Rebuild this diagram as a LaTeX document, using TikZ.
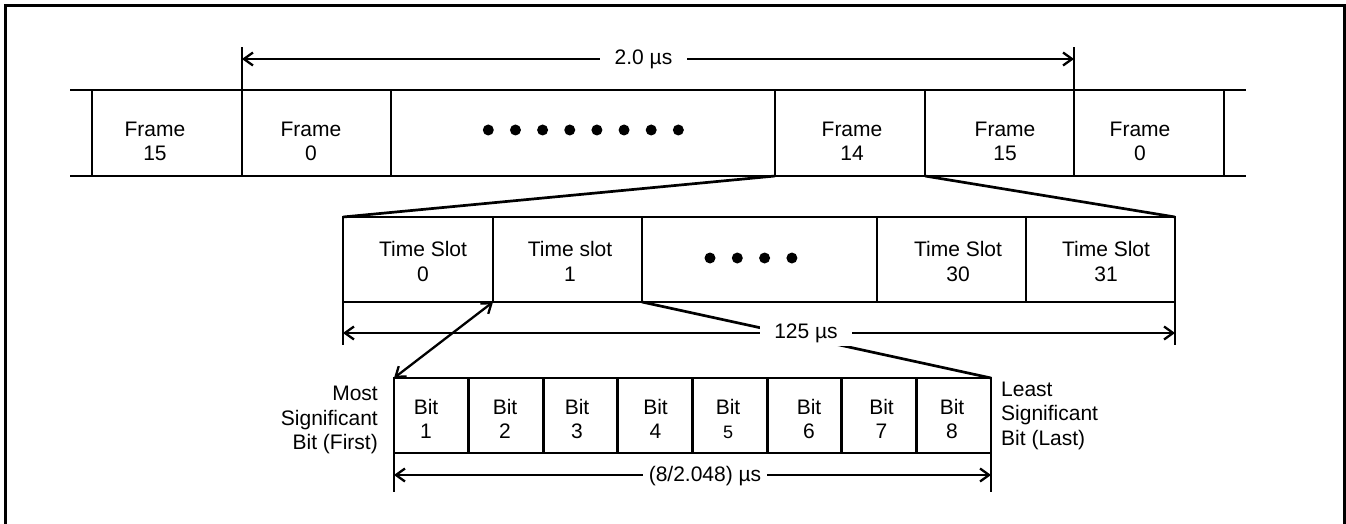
\documentclass[tikz,border=0pt]{standalone}
\usepackage{fontspec}
\setmainfont{Liberation Sans}
\usetikzlibrary{arrows.meta}
\begin{document}
\begin{tikzpicture}[x=1pt,y=-1pt,
  cell/.style={draw, line width=2.9pt, inner sep=0pt, outer sep=0pt, anchor=north west},
  celltext/.style={font=\fontsize{21}{24}\selectfont, align=center, inner sep=0pt},
  slottext/.style={font=\fontsize{21}{25}\selectfont, align=center, inner sep=0pt},
  sidetext/.style={font=\fontsize{21}{24.5}\selectfont, inner sep=0pt},
  dimline/.style={line width=2.3pt, {Straight Barb[length=9pt,width=13pt]}-{Straight Barb[length=9pt,width=13pt]}},
  extline/.style={line width=2.3pt},
  conn/.style={line width=2.7pt},
  dimlabel/.style={font=\fontsize{21}{24}\selectfont, fill=white, anchor=base, inner ysep=4pt},
  dotmark/.style={circle, fill=black, inner sep=0pt, minimum size=11pt}
]
\useasboundingbox (0,0) rectangle (1346,524);
% outer frame (open at the bottom)
\draw[line width=3pt] (5,530) -- (5,6) -- (1344,6) -- (1344,530);

% ---------- frame row ----------
\node[cell, minimum width=150pt, minimum height=86pt] (f1) at (92,90) {};
\node[cell, minimum width=149pt, minimum height=86pt] (f2) at (242,90) {};
\node[cell, minimum width=384pt, minimum height=86pt] (f3) at (391,90) {};
\node[cell, minimum width=150pt, minimum height=86pt] (f4) at (775,90) {};
\node[cell, minimum width=149pt, minimum height=86pt] (f5) at (925,90) {};
\node[cell, minimum width=150pt, minimum height=86pt] (f6) at (1074,90) {};
\draw[line width=2.9pt] (f1.north west) -- ++(-22,0);
\draw[line width=2.9pt] (f1.south west) -- ++(-22,0);
\draw[line width=2.9pt] (f6.north east) -- ++(22,0);
\draw[line width=2.9pt] (f6.south east) -- ++(22,0);
\node[celltext] (f1t) at (155,141.2) {Frame\\15};
\node[celltext] (f2t) at (311,141.2) {Frame\\0};
\node[celltext] (f4t) at (852,141.2) {Frame\\14};
\node[celltext] (f5t) at (1005,141.2) {Frame\\15};
\node[celltext] (f6t) at (1140,141.2) {Frame\\0};
\foreach \k in {0,...,7}
  \node[dotmark] (fd\k) at (488.3+27.15*\k,130) {};

% 2.0 us dimension
\draw[extline] (f2.north west) -- ++(0,-43);
\draw[extline] (f6.north west) -- ++(0,-43);
\path (f2.north west) ++(0,-31) coordinate (da1);
\path (f6.north west) ++(0,-31) coordinate (da2);
\draw[dimline] (da1) -- (da2);
\node[dimlabel, inner xsep=15pt] (dal) at (643.5,65) {2.0 µs};

% ---------- time slot row ----------
\node[cell, minimum width=150pt, minimum height=85pt] (t1) at (343,217) {};
\node[cell, minimum width=149pt, minimum height=85pt] (t2) at (493,217) {};
\node[cell, minimum width=235pt, minimum height=85pt] (t3) at (642,217) {};
\node[cell, minimum width=149pt, minimum height=85pt] (t4) at (877,217) {};
\node[cell, minimum width=149pt, minimum height=85pt] (t5) at (1026,217) {};
\node[slottext] (t1t) at (423,261.7) {Time Slot\\0};
\node[slottext] (t2t) at (570,261.7) {Time slot\\1};
\node[slottext] (t4t) at (958,261.7) {Time Slot\\30};
\node[slottext] (t5t) at (1106,261.7) {Time Slot\\31};
\foreach \k in {0,...,3}
  \node[dotmark] (td\k) at (710+27.3*\k,258) {};

% zoom lines frame 14 -> time slots
\draw[conn] (f4.south west) -- (t1.north west);
\draw[conn] (f4.south east) -- (t5.north east);

% ---------- bit row ----------
\foreach \i in {1,...,8}
  \node[cell, minimum width=74.625pt, minimum height=75pt] (b\i) at (394+74.625*\i-74.625,378) {};
\node[celltext] (b1t) at (426,418.5) {Bit\\1};
\node[celltext] (b2t) at (505,418.5) {Bit\\2};
\node[celltext] (b3t) at (577,418.5) {Bit\\3};
\node[celltext] (b4t) at (655.5,418.5) {Bit\\4};
\node[celltext] (b5t) at (728,418.5) {Bit\\{\fontsize{18}{24}\selectfont 5}};
\node[celltext] (b6t) at (809,418.5) {Bit\\6};
\node[celltext] (b7t) at (881.5,418.5) {Bit\\7};
\node[celltext] (b8t) at (952,418.5) {Bit\\8};

\node[sidetext, align=right, anchor=north east] (msb) at (378,386) {Most\\Significant\\Bit (First)};
\node[sidetext, align=left, anchor=north west] (lsb) at (1001,381.7) {Least\\Significant\\Bit (Last)};

% zoom lines time slot 1 -> bits
\draw[conn] (t2.south east) -- (b8.north east);
\draw[dimline] (t2.south west) -- (b1.north west);

% 125 us dimension
\draw[extline] (t1.south west) -- ++(0,43);
\draw[extline] (t5.south east) -- ++(0,43);
\path (t1.south west) ++(0,31) coordinate (db1);
\path (t5.south east) ++(0,31) coordinate (db2);
\draw[dimline] (db1) -- (db2);
\node[dimlabel, inner xsep=14pt] (dbl) at (806,338) {125 µs};

% 8/2.048 us dimension
\draw[extline] (b1.south west) -- ++(0,39);
\draw[extline] (b8.south east) -- ++(0,39);
\path (b1.south west) ++(0,22) coordinate (dc1);
\path (b8.south east) ++(0,22) coordinate (dc2);
\draw[dimline] (dc1) -- (dc2);
\node[dimlabel, inner xsep=6pt] (dcl) at (705,481.7) {(8/2.048) µs};
\end{tikzpicture}
\end{document}
